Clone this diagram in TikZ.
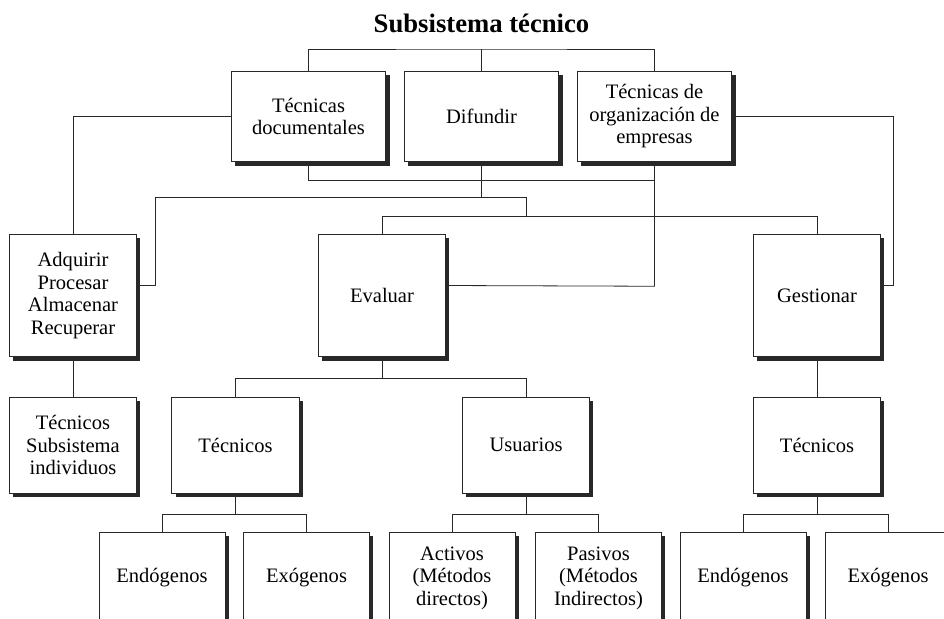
\documentclass[tikz,border=0pt]{standalone}
\usepackage{fontspec}
\setmainfont{Liberation Serif}
\usetikzlibrary{shadows}
\definecolor{mydarkgray}{RGB}{40,40,40}
\newcommand{\widthtop}{116pt}
\newcommand{\widthbox}{95.5pt}
\newcommand{\widthleaf}{94.5pt}
\tikzset{
    common/.style={draw=mydarkgray, fill=white, rectangle, align=center, inner sep=2pt, line width=0.6pt,
        font=\fontsize{15.4pt}{16.9pt}\selectfont,
        drop shadow={shadow xshift=2.8pt, shadow yshift=-2.8pt, fill=mydarkgray, opacity=1}},
    topbox/.style={common, minimum width=\widthtop, minimum height=68pt},
    midbox/.style={common, minimum width=\widthbox, minimum height=92pt},
    lowbox/.style={common, minimum width=\widthbox, minimum height=72pt},
    leafbox/.style={common, minimum width=\widthleaf, minimum height=68pt},
    link/.style={draw=mydarkgray, line width=0.6pt}
}

\begin{document}
\begin{tikzpicture}[x=0.75pt, y=-0.75pt]
            \useasboundingbox (0,0) rectangle (944,618);
            \clip (0,0) rectangle (944,618);

            \node[font=\fontsize{20pt}{24pt}\selectfont\bfseries] (title) at (481.5,23) {Subsistema técnico};

            % top row
            \node[topbox] (tecdoc) at (308.5,116.5) {Técnicas\\documentales};
            \node[topbox] (difundir) at (481.5,116.5) {Difundir};
            \node[topbox] (tecorg) at (654.5,116.5) {Técnicas de\\organización de\\empresas};

            % second row
            \node[midbox] (adquirir) at (73,295.5) {Adquirir\\Procesar\\Almacenar\\Recuperar};
            \node[midbox] (evaluar) at (382,295.5) {Evaluar};
            \node[midbox] (gestionar) at (817,295.5) {Gestionar};

            % third row
            \node[lowbox] (tecsub) at (73,445) {Técnicos\\Subsistema\\individuos};
            \node[lowbox] (tecnicos) at (235.5,445) {Técnicos};
            \node[lowbox] (usuarios) at (526,445) {Usuarios};
            \node[lowbox] (tecgest) at (817,445) {Técnicos};

            % bottom row
            \node[leafbox] (endo) at (162,578) {Endógenos};
            \node[leafbox] (exo) at (306.5,578) {Exógenos};
            \node[leafbox] (activos) at (452,578) {Activos\\(Métodos\\directos)};
            \node[leafbox] (pasivos) at (598.5,578) {Pasivos\\(Métodos\\Indirectos)};
            \node[leafbox] (endogest) at (743,578) {Endógenos};
            \node[leafbox] (exogest) at (888,578) {Exógenos};

            \coordinate (topbar) at (481.5,49);
            \draw[link] (tecdoc.north) |- (topbar) -| (tecorg.north);
            \draw[link] (difundir.north) -- (topbar);

            \draw[link] (tecdoc.south) -- ++(0,18) -| (tecorg.south);
            \draw[link] (tecorg.south) -- ++(0,124) -- ([yshift=7.5pt]evaluar.east);
            \draw[link] (tecdoc.west) -| (adquirir.north);
            \draw[link] (tecorg.east) -- ++(161,0) |- ([yshift=7.5pt]gestionar.east);

            \draw[link] (difundir.south) -- ++(0,35) coordinate (hub);
            \draw[link] ([yshift=7.5pt]adquirir.east) -- ++(18,0) |- (hub) -| ++(44.5,19) coordinate (fork);
            \draw[link] (evaluar.north) |- (fork) -| (gestionar.north);

            \draw[link] (adquirir.south) -- (tecsub.north);
            \draw[link] (gestionar.south) -- (tecgest.north);
            \draw[link] (evaluar.south) -- ++(0,21) coordinate (evfork);
            \draw[link] (tecnicos.north) |- (evfork) -| (usuarios.north);

            \foreach \up/\left/\right in {tecnicos/endo/exo, usuarios/activos/pasivos, tecgest/endogest/exogest}
                \draw[link] (\up.south) -- ++(0,21) coordinate (j) (\left.north) |- (j) -| (\right.north);

        \end{tikzpicture}
\end{document}
